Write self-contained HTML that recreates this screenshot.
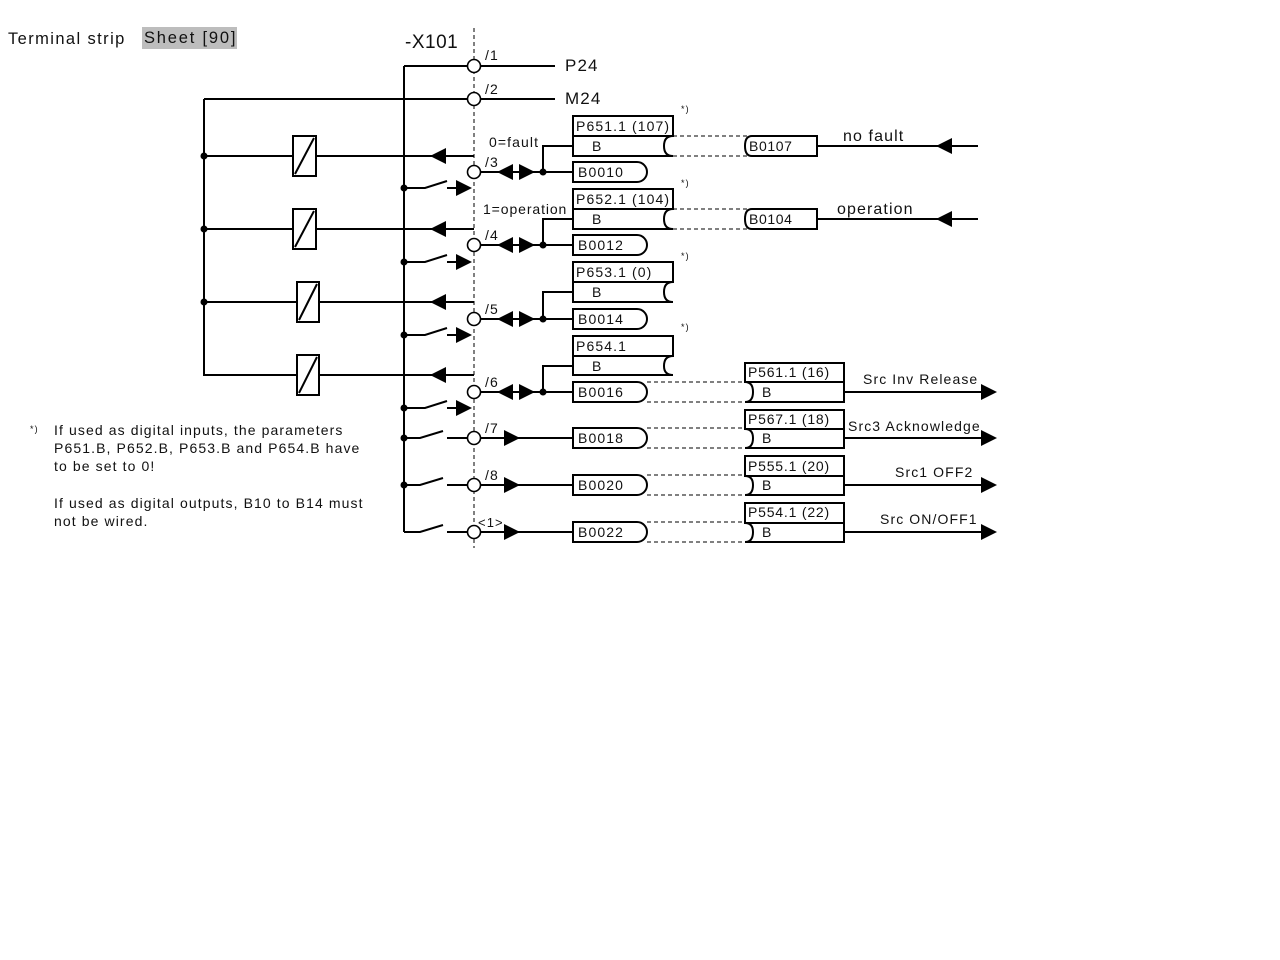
<!DOCTYPE html>
<html><head><meta charset="utf-8"><style>
html,body{margin:0;padding:0;background:#fff;width:1280px;height:960px;overflow:hidden}
svg{display:block}
text{font-family:"Liberation Sans",sans-serif;fill:#111;letter-spacing:1.1px}
</style></head><body>
<svg width="1280" height="960" viewBox="0 0 1280 960" xmlns="http://www.w3.org/2000/svg">
<rect x="142" y="27" width="95" height="22" fill="#bdbdbd"/>
<text x="8" y="44" font-size="16.5" style="letter-spacing:1.4px">Terminal strip</text>
<text x="144" y="43" font-size="16.5" style="letter-spacing:1.8px">Sheet [90]</text>
<text x="405" y="48" font-size="19" style="letter-spacing:0.5px">-X101</text>

<g stroke="#000" stroke-width="2" fill="none">
<line x1="474" y1="28" x2="474" y2="548" stroke-width="1" stroke-dasharray="4,3"/>
<line x1="404" y1="66" x2="404" y2="532"/>
<line x1="404" y1="66" x2="555" y2="66"/>
<line x1="204" y1="99" x2="555" y2="99"/>
<path d="M204 99 V375 H474"/>
<line x1="204" y1="156" x2="474" y2="156"/>
<line x1="204" y1="229" x2="474" y2="229"/>
<line x1="204" y1="302" x2="474" y2="302"/>
</g>
<g fill="#000">
<circle cx="204" cy="156" r="3.5"/><circle cx="204" cy="229" r="3.5"/><circle cx="204" cy="302" r="3.5"/>
<polygon points="430,156 446,148 446,164"/><polygon points="430,229 446,221 446,237"/>
<polygon points="430,302 446,294 446,310"/><polygon points="430,375 446,367 446,383"/>
</g>
<g stroke="#000" stroke-width="2" fill="#fff">
<rect x="293" y="136" width="23" height="40"/><line x1="295" y1="174" x2="314" y2="138"/>
<rect x="293" y="209" width="23" height="40"/><line x1="295" y1="247" x2="314" y2="211"/>
<rect x="297" y="282" width="22" height="40"/><line x1="299" y1="320" x2="317" y2="284"/>
<rect x="297" y="355" width="22" height="40"/><line x1="299" y1="393" x2="317" y2="357"/>
</g>

<g stroke="#000" stroke-width="2" fill="none">
<path d="M404 188 H425 L447 181 M447 188 H456"/>
<path d="M404 262 H425 L447 255 M447 262 H456"/>
<path d="M404 335 H425 L447 328 M447 335 H456"/>
<path d="M404 408 H425 L447 401 M447 408 H456"/>
<path d="M404 438 H420 L443 431 M447 438 H468 M480 438 H573"/>
<path d="M404 485 H420 L443 478 M447 485 H468 M480 485 H573"/>
<path d="M404 532 H420 L443 525 M447 532 H468 M480 532 H573"/>
</g>
<g fill="#000">
<circle cx="404" cy="188" r="3.5"/><circle cx="404" cy="262" r="3.5"/><circle cx="404" cy="335" r="3.5"/><circle cx="404" cy="408" r="3.5"/>
<circle cx="404" cy="438" r="3.5"/><circle cx="404" cy="485" r="3.5"/>
<polygon points="456,180 456,196 472,188"/><polygon points="456,254 456,270 472,262"/>
<polygon points="456,327 456,343 472,335"/><polygon points="456,400 456,416 472,408"/>
<polygon points="504,430 504,446 520,438"/><polygon points="504,477 504,493 520,485"/><polygon points="504,524 504,540 520,532"/>
</g>

<g stroke="#000" stroke-width="2" fill="none">
<path d="M480 172 H573 M543 172 V146 H573"/>
<path d="M480 245 H573 M543 245 V219 H573"/>
<path d="M480 319 H573 M543 319 V292 H573"/>
<path d="M480 392 H573 M543 392 V366 H573"/>
</g>
<g fill="#000">
<polygon points="497,172 513,164 513,180"/><polygon points="519,164 519,180 535,172"/><circle cx="543" cy="172" r="3.5"/>
<polygon points="497,245 513,237 513,253"/><polygon points="519,237 519,253 535,245"/><circle cx="543" cy="245" r="3.5"/>
<polygon points="497,319 513,311 513,327"/><polygon points="519,311 519,327 535,319"/><circle cx="543" cy="319" r="3.5"/>
<polygon points="497,392 513,384 513,400"/><polygon points="519,384 519,400 535,392"/><circle cx="543" cy="392" r="3.5"/>
</g>

<g stroke="#000" stroke-width="1.6" fill="#fff">
<circle cx="474" cy="66" r="6.5"/><circle cx="474" cy="99" r="6.5"/><circle cx="474" cy="172" r="6.5"/>
<circle cx="474" cy="245" r="6.5"/><circle cx="474" cy="319" r="6.5"/><circle cx="474" cy="392" r="6.5"/>
<circle cx="474" cy="438" r="6.5"/><circle cx="474" cy="485" r="6.5"/><circle cx="474" cy="532" r="6.5"/>
</g>
<g font-size="14">
<text x="485" y="60">/1</text><text x="485" y="94">/2</text><text x="485" y="167">/3</text>
<text x="485" y="240">/4</text><text x="485" y="314">/5</text><text x="485" y="387">/6</text>
<text x="485" y="433">/7</text><text x="485" y="480">/8</text><text x="478" y="527" font-size="13">&lt;1&gt;</text>
<text x="489" y="147">0=fault</text><text x="483" y="214" style="letter-spacing:0.9px">1=operation</text>
</g>
<text x="565" y="71" font-size="17">P24</text>
<text x="565" y="104" font-size="17">M24</text>

<g stroke="#000" stroke-width="2" fill="#fff">
<rect x="573" y="116" width="100" height="20"/><path d="M673 136 H573 V156 H673 Q664 156 664 146 Q664 136 673 136"/>
<path d="M573 162 H637 A10 10 0 0 1 637 182 H573 Z"/>
<rect x="573" y="189" width="100" height="20"/><path d="M673 209 H573 V229 H673 Q664 229 664 219 Q664 209 673 209"/>
<path d="M573 235 H637 A10 10 0 0 1 637 255 H573 Z"/>
<rect x="573" y="262" width="100" height="20"/><path d="M673 282 H573 V302 H673 Q664 302 664 292 Q664 282 673 282"/>
<path d="M573 309 H637 A10 10 0 0 1 637 329 H573 Z"/>
<rect x="573" y="336" width="100" height="20"/><path d="M673 356 H573 V375 H673 Q664 375 664 366 Q664 356 673 356"/>
<path d="M573 382 H637 A10 10 0 0 1 637 402 H573 Z"/>
<path d="M573 428 H637 A10 10 0 0 1 637 448 H573 Z"/>
<path d="M573 475 H637 A10 10 0 0 1 637 495 H573 Z"/>
<path d="M573 522 H637 A10 10 0 0 1 637 542 H573 Z"/>
</g>
<g font-size="14">
<text x="576" y="131">P651.1 (107)</text><text x="592" y="151">B</text><text x="578" y="177">B0010</text>
<text x="576" y="204">P652.1 (104)</text><text x="592" y="224">B</text><text x="578" y="250">B0012</text>
<text x="576" y="277">P653.1 (0)</text><text x="592" y="297">B</text><text x="578" y="324">B0014</text>
<text x="576" y="351">P654.1</text><text x="592" y="371">B</text><text x="578" y="397">B0016</text>
<text x="578" y="443">B0018</text><text x="578" y="490">B0020</text><text x="578" y="537">B0022</text>
</g>
<g font-size="9"><text x="681" y="112">*)</text><text x="681" y="186">*)</text><text x="681" y="259">*)</text><text x="681" y="330">*)</text></g>

<g stroke="#000" stroke-width="1" stroke-dasharray="4,3" fill="none">
<path d="M673 136 H752 M673 156 H752"/>
<path d="M673 209 H752 M673 229 H752"/>
<path d="M647 382 H752 M647 402 H752"/>
<path d="M647 428 H752 M647 448 H752"/>
<path d="M647 475 H752 M647 495 H752"/>
<path d="M647 522 H752 M647 542 H752"/>
</g>
<g stroke="#000" stroke-width="2" fill="#fff">
<path d="M752 136 H817 V156 H752 Q745 156 745 146 Q745 136 752 136 Z"/>
<path d="M752 209 H817 V229 H752 Q745 229 745 219 Q745 209 752 209 Z"/>
<rect x="745" y="363" width="99" height="19"/><path d="M745 382 H844 V402 H745 Q753 402 753 392 Q753 382 745 382 Z"/>
<rect x="745" y="410" width="99" height="19"/><path d="M745 429 H844 V448 H745 Q753 448 753 438 Q753 429 745 429 Z"/>
<rect x="745" y="456" width="99" height="20"/><path d="M745 476 H844 V495 H745 Q753 495 753 485 Q753 476 745 476 Z"/>
<rect x="745" y="503" width="99" height="20"/><path d="M745 523 H844 V542 H745 Q753 542 753 532 Q753 523 745 523 Z"/>
</g>
<g stroke="#000" stroke-width="2">
<line x1="817" y1="146" x2="978" y2="146"/><line x1="817" y1="219" x2="978" y2="219"/>
<line x1="844" y1="392" x2="985" y2="392"/><line x1="844" y1="438" x2="985" y2="438"/>
<line x1="844" y1="485" x2="985" y2="485"/><line x1="844" y1="532" x2="985" y2="532"/>
</g>
<g fill="#000">
<polygon points="936,146 952,138 952,154"/><polygon points="936,219 952,211 952,227"/>
<polygon points="981,384 981,400 997,392"/><polygon points="981,430 981,446 997,438"/>
<polygon points="981,477 981,493 997,485"/><polygon points="981,524 981,540 997,532"/>
</g>
<g font-size="14">
<text x="749" y="151" style="letter-spacing:0.6px">B0107</text><text x="749" y="224" style="letter-spacing:0.6px">B0104</text>
<text x="748" y="377" style="letter-spacing:0.8px">P561.1 (16)</text><text x="762" y="397">B</text>
<text x="748" y="424" style="letter-spacing:0.8px">P567.1 (18)</text><text x="762" y="443">B</text>
<text x="748" y="471" style="letter-spacing:0.8px">P555.1 (20)</text><text x="762" y="490">B</text>
<text x="748" y="517" style="letter-spacing:0.8px">P554.1 (22)</text><text x="762" y="537">B</text>
</g>
<g font-size="16"><text x="843" y="141">no fault</text><text x="837" y="214">operation</text></g>
<g font-size="14">
<text x="863" y="384">Src Inv Release</text>
<text x="848" y="431">Src3 Acknowledge</text>
<text x="895" y="477">Src1 OFF2</text>
<text x="880" y="524">Src ON/OFF1</text>
</g>

<g font-size="14" style="letter-spacing:0.95px">
<text x="30" y="432" font-size="9">*)</text>
<text x="54" y="435">If used as digital inputs, the parameters</text>
<text x="54" y="453">P651.B, P652.B, P653.B and P654.B have</text>
<text x="54" y="471">to be set to 0!</text>
<text x="54" y="508">If used as digital outputs, B10 to B14 must</text>
<text x="54" y="526">not be wired.</text>
</g>
</svg>
</body></html>
